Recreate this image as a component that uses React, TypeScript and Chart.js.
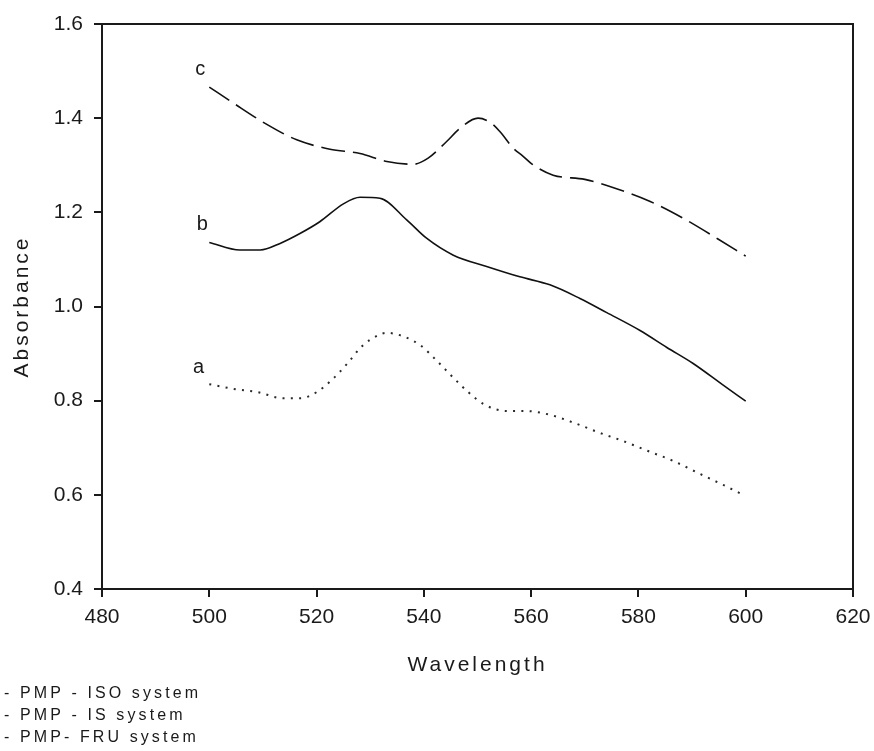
import React, { useEffect, useRef } from "react";
import { Chart, registerables } from "chart.js";

Chart.register(...registerables);

// ---- data ----
const seriesLabels = ["PMP - ISO system", "PMP - IS system", "PMP- FRU system"];
const curveNames = ["a", "b", "c"];

const aX = [500, 504.5, 509.1, 513.8, 516.9, 520, 523.1, 525.9, 528.4, 531.5, 533.1, 536.3, 539.3, 542.4, 545.3, 548.3, 551.4, 555.7, 558.9, 563.5, 568.2, 572.7, 577.2, 581.8, 586.5, 591.2, 595.8, 599];
const aY = [0.835, 0.825, 0.818, 0.805, 0.805, 0.818, 0.847, 0.881, 0.915, 0.939, 0.944, 0.936, 0.918, 0.885, 0.851, 0.818, 0.791, 0.778, 0.778, 0.77, 0.752, 0.732, 0.714, 0.693, 0.672, 0.646, 0.621, 0.603];

const bX = [500, 505.7, 509.5, 513.2, 516.9, 520.6, 525, 528.1, 531.8, 536.8, 540.5, 545.5, 551.7, 557.9, 563.5, 569.1, 574.1, 580.3, 585.3, 590.2, 595.8, 600];
const bY = [1.136, 1.12, 1.12, 1.134, 1.155, 1.18, 1.218, 1.232, 1.23, 1.184, 1.145, 1.109, 1.085, 1.063, 1.046, 1.017, 0.987, 0.949, 0.913, 0.879, 0.833, 0.799];

const cX = [500, 504.5, 510.4, 516.3, 522.5, 528.1, 533.1, 538, 540.8, 544.2, 546.7, 550.1, 552.6, 554.2, 556.7, 558.4, 560.1, 564.1, 570, 576.2, 582.2, 588.4, 594.6, 600];
const cY = [1.466, 1.432, 1.389, 1.354, 1.334, 1.325, 1.308, 1.302, 1.315, 1.35, 1.378, 1.4, 1.389, 1.371, 1.336, 1.32, 1.303, 1.279, 1.27, 1.249, 1.223, 1.187, 1.145, 1.107];

// curve letter label anchors (data coordinates) for a, b, c
const nameX = [498, 498.7, 498.3];
const nameY = [0.87, 1.175, 1.504];

const xMin = 480, xMax = 620, xStep = 20;
const yMin = 0.4, yMax = 1.6, yStep = 0.2;

const FONT = "'Liberation Sans', Arial, sans-serif";
const INK = "#1a1a1a";

function toPoints(xs: number[], ys: number[]) {
  return xs.map((x, i) => ({ x, y: ys[i] }));
}

const titleSpacingPlugin = {
  id: "titleSpacing",
  afterLayout(chart: any) {
    ["x", "y"].forEach((id) => {
      const s = chart.scales[id];
      if (s && !s.__wrapped) {
        const orig = s.drawTitle.bind(s);
        s.drawTitle = function () {
          const ctx = chart.ctx;
          ctx.save();
          ctx.letterSpacing = "3px";
          orig();
          ctx.restore();
        };
        s.__wrapped = true;
      }
    });
  },
};

const framePlugin = {
  id: "frame",
  afterDraw(chart: any) {
    const { ctx, chartArea } = chart;
    const xs = chart.scales.x;
    const ys = chart.scales.y;
    ctx.save();
    // top and right frame lines
    ctx.strokeStyle = INK;
    ctx.lineWidth = 2;
    ctx.beginPath();
    ctx.moveTo(chartArea.left - 6, chartArea.top);
    ctx.lineTo(chartArea.right, chartArea.top);
    ctx.lineTo(chartArea.right, chartArea.bottom);
    ctx.stroke();

    // curve letters
    ctx.fillStyle = INK;
    ctx.font = `20px ${FONT}`;
    ctx.textAlign = "center";
    ctx.textBaseline = "middle";
    curveNames.forEach((t, i) => {
      ctx.fillText(t, xs.getPixelForValue(nameX[i]), ys.getPixelForValue(nameY[i]));
    });

    // legend text lines under the chart
    ctx.font = `16px ${FONT}`;
    ctx.letterSpacing = "3.1px";
    ctx.textAlign = "left";
    ctx.textBaseline = "middle";
    chart.data.datasets.forEach((ds: any, i: number) => {
      ctx.fillText("- " + ds.label, 4, 694 + i * 22);
    });
    ctx.restore();
  },
};

export default function App() {
  const ref = useRef<HTMLCanvasElement | null>(null);

  useEffect(() => {
    if (!ref.current) return;
    const chart = new Chart(ref.current, {
      type: "line",
      data: {
        datasets: [
          {
            label: seriesLabels[0],
            data: toPoints(aX, aY),
            borderColor: "#2a2a2a",
            borderWidth: 2,
            borderDash: [2, 6.3],
            pointRadius: 0,
            fill: false,
            cubicInterpolationMode: "monotone",
          },
          {
            label: seriesLabels[1],
            data: toPoints(bX, bY),
            borderColor: "#111",
            borderWidth: 1.6,
            pointRadius: 0,
            fill: false,
            cubicInterpolationMode: "monotone",
          },
          {
            label: seriesLabels[2],
            data: toPoints(cX, cY),
            borderColor: "#111",
            borderWidth: 1.6,
            borderDash: [24, 8],
            pointRadius: 0,
            fill: false,
            cubicInterpolationMode: "monotone",
          },
        ],
      },
      options: {
        animation: false,
        responsive: false,
        events: [],
        layout: { padding: { top: 24, right: 21, left: 0, bottom: 0 } },
        plugins: {
          legend: { display: false },
          tooltip: { enabled: false },
        },
        scales: {
          x: {
            type: "linear",
            min: xMin,
            max: xMax,
            afterFit: (s: any) => {
              s.height = 162;
              s.paddingLeft = 0;
              s.paddingRight = 0;
            },
            ticks: {
              stepSize: xStep,
              color: INK,
              font: { family: FONT, size: 21 },
              padding: 8,
              maxRotation: 0,
            },
            grid: {
              drawOnChartArea: false,
              drawTicks: true,
              tickLength: 8,
              color: INK,
              lineWidth: 2,
            },
            border: { display: true, color: INK, width: 2 },
            title: {
              display: true,
              text: "Wavelength",
              color: INK,
              font: { family: FONT, size: 21 },
              padding: { top: 0, bottom: 73 },
            },
          },
          y: {
            type: "linear",
            min: yMin,
            max: yMax,
            afterFit: (s: any) => {
              s.width = 102;
              s.paddingTop = 0;
              s.paddingBottom = 0;
            },
            ticks: {
              stepSize: yStep,
              color: INK,
              font: { family: FONT, size: 21 },
              padding: 11,
              callback: (v: any) => Number(v).toFixed(1),
            },
            grid: {
              drawOnChartArea: false,
              drawTicks: true,
              tickLength: 8,
              color: INK,
              lineWidth: 2,
            },
            border: { display: true, color: INK, width: 2 },
            title: {
              display: true,
              text: "Absorbance",
              color: INK,
              font: { family: FONT, size: 21 },
              padding: { top: 10, bottom: 0 },
            },
          },
        },
      },
      plugins: [titleSpacingPlugin, framePlugin],
    } as any);
    return () => chart.destroy();
  }, []);

  return (
    <div style={{ position: "absolute", left: 0, top: 0, width: 874, height: 751, background: "#fff" }}>
      <canvas ref={ref} width={874} height={751} style={{ display: "block", width: 874, height: 751 }} />
    </div>
  );
}
